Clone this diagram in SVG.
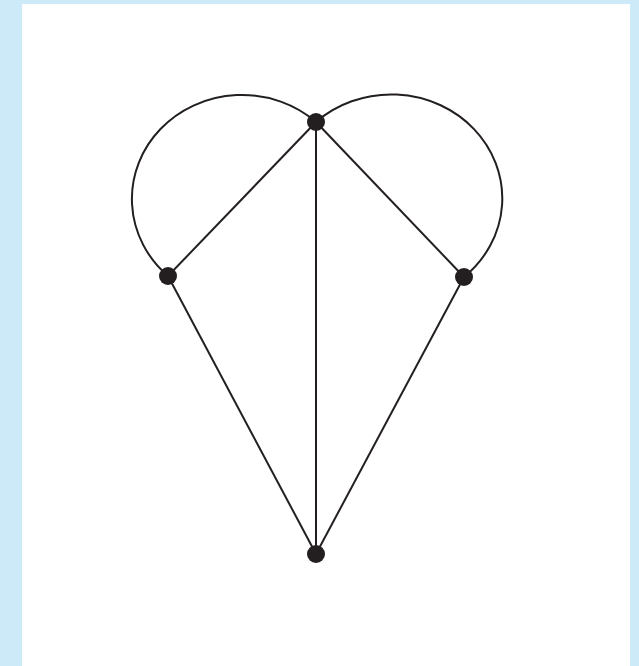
<svg xmlns="http://www.w3.org/2000/svg" width="639" height="666" viewBox="0 0 639 666">
<style>
.e{fill:none;stroke:#231f20;stroke-width:2}
.n{fill:#231f20}
</style>
<rect x="0" y="0" width="639" height="666" fill="#cdeaf8"/>
<rect x="22" y="4" width="608" height="662" fill="#ffffff"/>
<g id="connectors">
<path class="e" d="M316,122 A109,103 0 1,0 168,276"/>
<path class="e" d="M316,122 A111,104 0 1,1 464,277"/>
<line class="e" x1="316" y1="122" x2="168" y2="276"/>
<line class="e" x1="316" y1="122" x2="464" y2="277"/>
<line class="e" x1="316" y1="122" x2="316" y2="554"/>
<line class="e" x1="168" y1="276" x2="316" y2="554"/>
<line class="e" x1="464" y1="277" x2="316" y2="554"/>
</g>
<g id="node-top"><circle class="n" cx="316" cy="122" r="9"/></g>
<g id="node-left"><circle class="n" cx="168" cy="276" r="9"/></g>
<g id="node-right"><circle class="n" cx="464" cy="277" r="9"/></g>
<g id="node-bottom"><circle class="n" cx="316" cy="554" r="9"/></g>
</svg>
